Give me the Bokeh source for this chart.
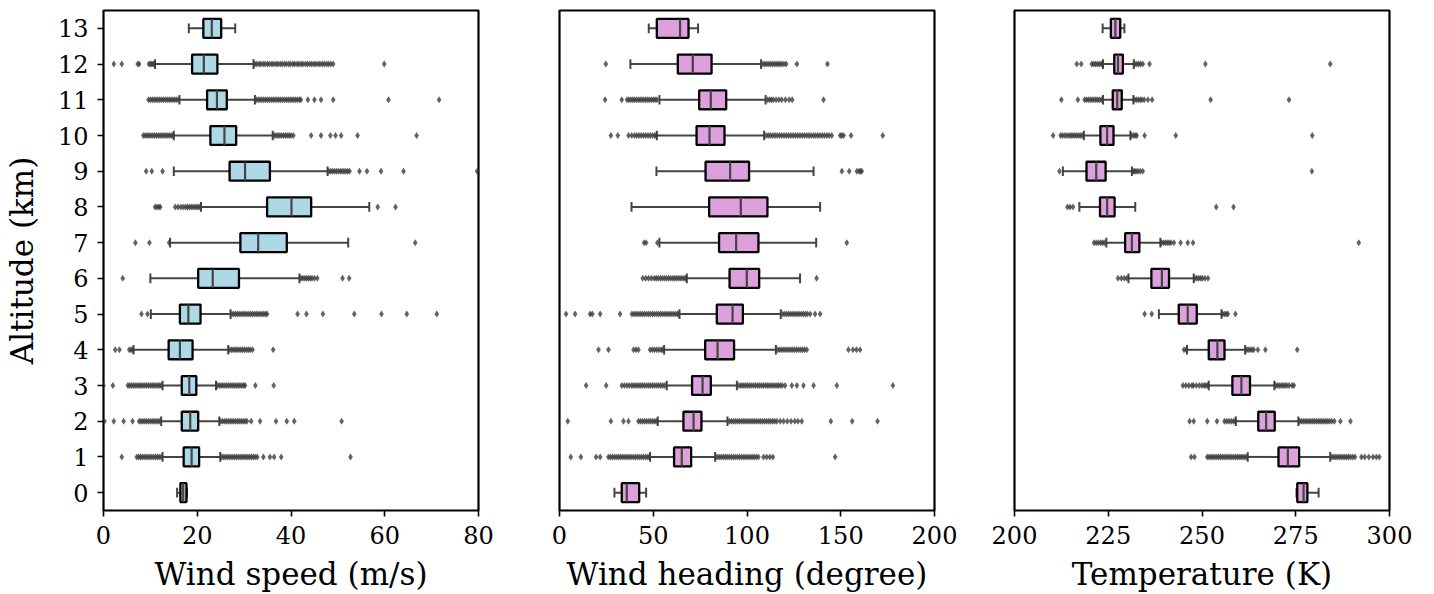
from bokeh.plotting import figure
from bokeh.layouts import row
from bokeh.models import Range1d, FixedTicker, ColumnDataSource
from bokeh.embed import file_html
from bokeh.resources import INLINE

altitudes = list(range(14))

# ---- Wind speed (m/s): box statistics per altitude 0..13 ----
speed_wlo = [15.7, 12.6, 12.3, 12.6, 6.4, 10.1, 10.0, 14.2, 20.8, 15.0, 15.0, 16.2, 11.0, 18.2]
speed_q1 = [16.4, 17.1, 16.7, 16.7, 13.9, 16.3, 20.2, 29.2, 34.9, 26.9, 22.8, 22.1, 18.9, 21.3]
speed_med = [17.0, 18.8, 18.5, 18.3, 16.3, 18.1, 23.3, 33.0, 40.1, 30.2, 25.8, 24.2, 21.4, 23.1]
speed_q3 = [17.7, 20.4, 20.2, 19.8, 19.0, 20.7, 28.9, 39.1, 44.3, 35.5, 28.3, 26.3, 24.3, 25.1]
speed_whi = [17.8, 24.9, 24.7, 24.0, 26.6, 27.1, 41.8, 52.2, 56.7, 47.8, 36.1, 32.3, 32.0, 28.1]
speed_fliers = {
    1: [3.9, 7.1, 7.5, 7.9, 8.3, 8.7, 9.1, 9.5, 9.9, 10.3, 10.7, 11.1, 11.5, 11.9, 12.3,
        25.2, 25.6, 26.0, 26.4, 26.8, 27.2, 27.6, 28.0, 28.4, 28.8, 29.2, 29.6, 30.0, 30.4,
        30.8, 31.2, 31.6, 32.0, 32.4, 32.8, 34.1, 35.5, 36.4, 37.9, 52.7],
    2: [0.2, 2.2, 4.3, 6.2, 7.6, 8.0, 8.4, 8.8, 9.2, 9.6, 10.0, 10.4, 10.8, 11.2, 11.6, 12.0,
        25.0, 25.4, 25.8, 26.2, 26.6, 27.0, 27.4, 27.8, 28.2, 28.6, 29.0, 29.4, 29.8, 30.2,
        30.6, 31.5, 33.4, 36.8, 39.1, 40.7, 50.8],
    3: [0.0, 2.0, 5.2, 5.6, 6.0, 6.4, 6.8, 7.2, 7.6, 8.0, 8.4, 8.8, 9.2, 9.6, 10.0, 10.4,
        10.8, 11.2, 11.6, 12.0, 12.3,
        24.3, 24.7, 25.1, 25.5, 25.9, 26.3, 26.7, 27.1, 27.5, 27.9, 28.3, 28.7, 29.1, 29.5,
        29.9, 30.2, 32.4, 36.3],
    4: [2.5, 3.4, 5.5, 5.9, 6.2,
        26.9, 27.3, 27.7, 28.1, 28.5, 28.9, 29.3, 29.7, 30.1, 30.5, 30.9, 31.3, 31.8, 36.2],
    5: [8.1, 9.4,
        27.4, 27.8, 28.2, 28.6, 29.0, 29.4, 29.8, 30.2, 30.6, 31.0, 31.4, 31.8, 32.2, 32.6,
        33.0, 33.4, 33.8, 34.2, 34.6, 34.9, 41.4, 43.3, 46.8, 53.5, 59.3, 64.7, 71.1],
    6: [4.1, 42.1, 42.5, 42.9, 43.3, 43.7, 44.1, 44.5, 45.0, 45.6, 51.0, 52.4],
    7: [6.8, 9.8, 14.0, 66.5],
    8: [11.0, 11.4, 11.8, 12.1, 15.3, 15.9, 16.5, 17.0, 17.5, 17.9, 18.3, 18.7, 19.1, 19.5,
        19.9, 20.3, 20.6, 58.5, 62.3],
    9: [9.1, 10.3, 12.6, 48.1, 48.5, 48.9, 49.3, 49.7, 50.1, 50.5, 50.9, 51.3, 51.7, 52.1,
        52.5, 54.6, 56.2, 59.2, 64.0, 79.7],
    10: [8.5, 8.9, 9.3, 9.7, 10.1, 10.5, 10.9, 11.3, 11.7, 12.1, 12.5, 12.9, 13.3, 13.7,
         14.1, 14.5, 14.8, 36.4, 36.8, 37.2, 37.6, 38.0, 38.4, 38.8, 39.2, 39.6, 40.0, 40.5,
         44.3, 46.4, 48.4, 49.5, 50.7, 54.2, 66.8],
    11: [9.6, 10.0, 10.4, 10.8, 11.2, 11.6, 12.0, 12.4, 12.8, 13.2, 13.6, 14.0, 14.4, 14.8,
         15.2, 15.6, 16.0,
         32.6, 33.0, 33.4, 33.8, 34.2, 34.6, 35.0, 35.4, 35.8, 36.2, 36.6, 37.0, 37.4, 37.8,
         38.2, 38.6, 39.0, 39.4, 39.8, 40.2, 40.6, 41.0, 41.4, 41.8, 42.1, 43.6, 45.0, 46.4,
         49.0, 60.8, 71.6],
    12: [2.2, 3.9, 7.3, 7.6, 9.7, 10.0, 10.3, 10.6, 10.8,
         32.3, 32.7, 33.2, 33.6, 34.1, 34.5, 35.0, 35.4, 35.9, 36.3, 36.8, 37.2, 37.7, 38.1,
         38.6, 39.0, 39.5, 39.9, 40.4, 40.8, 41.3, 41.7, 42.2, 42.6, 43.1, 43.5, 44.0, 44.4,
         44.9, 45.3, 45.8, 46.2, 46.7, 47.1, 47.6, 48.0, 48.5, 49.0, 59.9],
}

# ---- Wind heading (degree) ----
head_wlo = [29.3, 48.3, 52.4, 57.2, 55.8, 64.0, 67.9, 53.3, 38.4, 51.7, 51.9, 53.3, 37.8, 47.6]
head_q1 = [33.2, 61.1, 66.1, 70.7, 77.7, 83.9, 90.7, 85.1, 79.8, 77.9, 73.1, 74.5, 63.1, 51.9]
head_med = [35.9, 65.2, 71.5, 76.3, 84.3, 92.3, 99.9, 94.2, 96.7, 91.0, 80.0, 80.7, 71.1, 64.3]
head_q3 = [42.5, 70.2, 75.7, 80.7, 93.1, 97.8, 106.5, 106.1, 110.9, 101.1, 88.0, 88.9, 81.1, 68.8]
head_whi = [46.2, 83.0, 89.6, 94.6, 115.4, 118.0, 128.3, 136.9, 139.0, 135.5, 109.1, 109.9, 107.5, 73.9]
head_fliers = {
    1: [6.0, 11.4, 19.5, 21.7, 26.1, 27.2, 28.3, 29.4, 30.5, 31.6, 32.7, 33.8, 34.9, 36.0,
        37.1, 38.2, 39.3, 40.4, 41.5, 42.6, 43.7, 44.8, 45.9, 47.0, 47.8,
        84.0, 85.1, 86.2, 87.3, 88.4, 89.5, 90.6, 91.7, 92.8, 93.9, 95.0, 96.1, 97.2, 98.3,
        99.4, 100.5, 101.6, 102.7, 103.8, 104.9, 106.1, 108.8, 110.5, 112.2, 113.8, 147.0],
    2: [4.4, 27.4, 34.1, 36.8, 42.1, 43.2, 44.3, 45.4, 46.5, 47.6, 48.7, 49.8, 50.9, 51.9,
        90.6, 91.7, 92.8, 93.9, 95.0, 96.1, 97.2, 98.3, 99.4, 100.5, 101.6, 102.7, 103.8,
        104.9, 106.0, 107.1, 108.2, 109.3, 110.4, 111.5, 112.6, 113.7, 114.8, 115.9, 117.7,
        119.5, 121.5, 123.5, 125.5, 127.2, 129.2, 144.7, 156.1, 169.6],
    3: [14.2, 24.9, 33.2, 34.6, 36.0, 37.3, 38.6, 39.7, 40.8, 41.9, 43.0, 44.1, 45.2, 46.3,
        47.4, 48.5, 49.6, 50.7, 51.8, 52.9, 54.0, 55.1, 56.2,
        95.7, 96.8, 97.9, 99.0, 100.1, 101.2, 102.3, 103.4, 104.5, 105.6, 106.7, 107.8, 108.9,
        110.0, 111.1, 112.2, 113.3, 114.4, 115.5, 116.6, 117.7, 118.8, 120.3, 123.9, 126.6,
        130.1, 135.5, 147.9, 177.8],
    4: [20.8, 26.1, 39.5, 40.8, 42.1, 48.3, 49.5, 50.7, 51.9, 53.1, 54.3, 55.1,
        116.4, 117.5, 118.6, 119.7, 120.8, 121.9, 123.0, 124.1, 125.2, 126.3, 127.4, 128.5,
        129.6, 130.7, 131.9, 154.1, 156.5, 158.4, 160.3],
    5: [3.5, 8.3, 16.3, 17.5, 21.7, 32.3, 38.6, 39.7, 40.8, 41.9, 43.0, 44.1, 45.2, 46.3,
        47.4, 48.5, 49.6, 50.7, 51.8, 52.9, 54.0, 55.1, 56.2, 57.3, 58.4, 59.5, 60.6, 61.7,
        62.8, 63.4,
        119.0, 120.1, 121.2, 122.3, 123.4, 124.5, 125.6, 126.7, 127.8, 128.9, 130.0, 131.1,
        132.2, 133.7, 136.3, 139.0],
    6: [44.4, 46.0, 47.5, 49.0, 50.5, 51.6, 52.7, 53.8, 54.9, 56.0, 57.1, 58.2, 59.3, 60.4,
        61.5, 62.6, 63.7, 64.8, 65.9, 67.0, 67.4, 137.1],
    7: [45.1, 46.2, 52.2, 153.2],
    9: [150.6, 154.5, 158.6, 159.8, 160.5, 161.2],
    10: [27.4, 31.1, 36.8, 38.5, 40.0, 41.2, 42.4, 43.6, 44.8, 46.0, 47.2, 48.4, 49.6, 50.8,
         51.6,
         110.2, 111.4, 112.6, 113.8, 115.0, 116.2, 117.4, 118.6, 119.8, 121.0, 122.2, 123.4,
         124.6, 125.8, 127.0, 128.2, 129.4, 130.6, 131.8, 133.0, 134.2, 135.4, 136.6, 137.8,
         139.0, 140.2, 141.4, 142.6, 143.8, 145.2, 149.7, 150.5, 151.5, 155.5, 172.4],
    11: [24.3, 33.2, 36.0, 37.0, 38.0, 39.0, 40.0, 41.0, 42.0, 43.0, 44.0, 45.0, 46.0, 47.0,
         48.0, 49.0, 50.0, 51.0, 52.0,
         110.9, 112.0, 113.0, 114.0, 115.5, 117.0, 118.5, 120.5, 122.5, 124.1, 140.8],
    12: [24.7, 108.5, 109.5, 110.5, 111.5, 112.5, 113.5, 114.5, 115.5, 116.5, 117.5, 118.5,
         119.7, 120.9, 126.6, 142.9],
}

# ---- Temperature (K) ----
temp_wlo = [275.2, 262.2, 259.0, 251.8, 246.0, 238.5, 230.4, 224.5, 217.3, 212.9, 218.5, 223.6, 223.6, 223.5]
temp_q1 = [275.4, 270.4, 265.0, 258.1, 251.8, 243.8, 236.5, 229.5, 222.8, 219.2, 222.9, 226.2, 226.6, 225.7]
temp_med = [277.1, 272.9, 267.1, 260.5, 254.1, 246.2, 239.3, 231.3, 224.7, 221.8, 224.7, 227.4, 227.6, 226.9]
temp_q3 = [278.1, 275.9, 269.4, 262.8, 256.0, 248.6, 241.2, 233.3, 226.7, 224.3, 226.4, 228.6, 228.9, 228.2]
temp_whi = [281.1, 284.2, 275.7, 269.3, 261.5, 255.2, 247.8, 238.9, 232.2, 231.3, 230.9, 231.7, 231.8, 229.3]
temp_fliers = {
    1: [247.1, 248.0, 251.4, 251.9, 252.4, 252.9, 253.4, 253.9, 254.4, 254.9, 255.4, 255.9,
        256.4, 256.9, 257.4, 257.9, 258.4, 258.9, 259.4, 259.9, 260.4, 260.9, 261.4, 261.9,
        284.6, 285.1, 285.6, 286.1, 286.6, 287.1, 287.6, 288.1, 288.6, 289.1, 289.6, 290.2,
        290.8, 292.5, 293.4, 294.5, 295.6, 296.5, 297.3],
    2: [246.7, 247.8, 251.4, 254.0, 256.0, 256.6, 257.2, 257.8, 258.4, 258.9,
        276.0, 276.5, 277.0, 277.5, 278.0, 278.5, 279.0, 279.5, 280.0, 280.5, 281.0, 281.5,
        282.0, 282.5, 283.0, 283.5, 284.0, 284.6, 285.3, 286.9, 289.6],
    3: [244.9, 245.7, 246.5, 247.3, 247.7, 248.5, 249.3, 250.0, 250.6, 251.1, 251.6,
        269.6, 270.1, 270.6, 271.1, 271.6, 272.1, 272.6, 273.2, 274.0, 274.5],
    4: [245.2, 245.8, 261.8, 262.3, 262.8, 263.3, 263.8, 264.9, 266.9, 275.4],
    5: [234.7, 236.6, 255.5, 256.0, 256.5, 256.9, 258.9],
    6: [227.6, 228.5, 229.3, 230.0, 248.1, 248.6, 249.1, 249.6, 250.1, 250.8, 251.6],
    7: [221.2, 221.8, 222.4, 223.0, 223.5, 224.0, 239.2, 239.7, 240.2, 240.7, 241.2, 241.7,
        242.5, 244.3, 246.2, 247.6, 291.8],
    8: [214.1, 214.8, 215.6, 253.8, 258.4],
    9: [212.0, 231.6, 232.0, 232.4, 232.9, 233.5, 234.2, 279.3],
    10: [210.3, 212.3, 212.8, 213.4, 214.0, 214.6, 215.1, 215.6, 216.1, 216.6, 217.1, 217.6,
         218.1, 231.2, 231.7, 232.2, 232.6, 234.7, 243.0, 279.4],
    11: [212.5, 216.9, 218.7, 219.2, 219.7, 220.2, 220.7, 221.2, 221.7, 222.2, 222.7, 223.2,
         232.0, 232.5, 233.0, 233.5, 234.0, 234.6, 235.6, 236.7, 252.3, 273.2],
    12: [216.6, 217.8, 220.6, 221.1, 221.6, 222.1, 222.6, 223.1, 223.4,
         232.1, 232.6, 233.1, 233.6, 234.2, 236.0, 250.9, 284.2],
}

x_labels = ["Wind speed (m/s)", "Wind heading (degree)", "Temperature (K)"]
x_ranges = [(0, 80), (0, 200), (200, 300)]
x_ticks = [[0, 20, 40, 60, 80], [0, 50, 100, 150, 200], [200, 225, 250, 275, 300]]
box_colors = ["#add8e6", "#dda0dd", "#dda0dd"]

FONT = "DejaVu Serif"
BOX_H = 0.53
CAP_H = 0.27
LINE_GRAY = "#444444"


def make_panel(idx, wlo, q1, med, q3, whi, fliers, border_left, border_right, show_y):
    p = figure(frame_width=375, frame_height=500,
               x_range=Range1d(*x_ranges[idx]), y_range=Range1d(-0.5, 13.5),
               output_backend="svg", toolbar_location=None,
               min_border_left=border_left, min_border_right=border_right,
               min_border_top=10, min_border_bottom=84)
    p.grid.visible = False
    p.background_fill_color = "white"
    p.border_fill_color = "white"
    p.outline_line_color = "black"
    p.outline_line_width = 2.2
    p.outline_line_alpha = 1

    src = ColumnDataSource(dict(y=altitudes, wlo=wlo, q1=q1, med=med, q3=q3, whi=whi,
                                lo=[a - BOX_H / 2 for a in altitudes],
                                hi=[a + BOX_H / 2 for a in altitudes],
                                clo=[a - CAP_H / 2 for a in altitudes],
                                chi=[a + CAP_H / 2 for a in altitudes]))
    # whiskers and caps
    for x0, x1, y0, y1 in (("wlo", "q1", "y", "y"), ("q3", "whi", "y", "y"),
                           ("wlo", "wlo", "clo", "chi"), ("whi", "whi", "clo", "chi")):
        p.segment(x0=x0, x1=x1, y0=y0, y1=y1, source=src,
                  line_color=LINE_GRAY, line_width=2)
    # boxes
    p.hbar(y="y", left="q1", right="q3", height=BOX_H, source=src,
           fill_color=box_colors[idx], line_color="black", line_width=2.3)
    # medians
    p.segment(x0="med", x1="med", y0="lo", y1="hi", source=src, line_color=LINE_GRAY, line_width=2.2)
    # outliers
    fx, fy = [], []
    for alt, vals in fliers.items():
        fx.extend(vals)
        fy.extend([alt] * len(vals))
    p.scatter(fx, fy, marker="diamond", size=7, fill_color="#3c3c3c",
              fill_alpha=0.8, line_color=None)

    p.xaxis.ticker = FixedTicker(ticks=x_ticks[idx])
    p.xaxis.axis_label = x_labels[idx]
    p.yaxis.ticker = FixedTicker(ticks=altitudes)
    for ax in (p.xaxis, p.yaxis):
        ax.axis_line_color = None
        ax.major_tick_line_color = "black"
        ax.major_tick_line_width = 1.6
        ax.major_tick_out = 6
        ax.major_tick_in = 0
        ax.minor_tick_line_color = None
        ax.major_label_text_font = FONT
        ax.major_label_text_font_size = "24px"
        ax.major_label_text_color = "black"
        ax.axis_label_text_font = FONT
        ax.axis_label_text_font_size = "31px"
        ax.axis_label_text_font_style = "normal"
        ax.axis_label_text_color = "black"
    p.xaxis.major_label_standoff = 9
    p.xaxis.axis_label_standoff = 9
    p.yaxis.major_label_standoff = 9
    if show_y:
        p.yaxis.axis_label = "Altitude (km)"
        p.yaxis.axis_label_standoff = 15
    else:
        p.yaxis.visible = False
    return p


p1 = make_panel(0, speed_wlo, speed_q1, speed_med, speed_q3, speed_whi, speed_fliers, 102, 40, True)
p2 = make_panel(1, head_wlo, head_q1, head_med, head_q3, head_whi, head_fliers, 41, 40, False)
p3 = make_panel(2, temp_wlo, temp_q1, temp_med, temp_q3, temp_whi, temp_fliers, 40, 46, False)

layout = row(p1, p2, p3, spacing=0)
open("out.html", "w").write(file_html(layout, INLINE))
